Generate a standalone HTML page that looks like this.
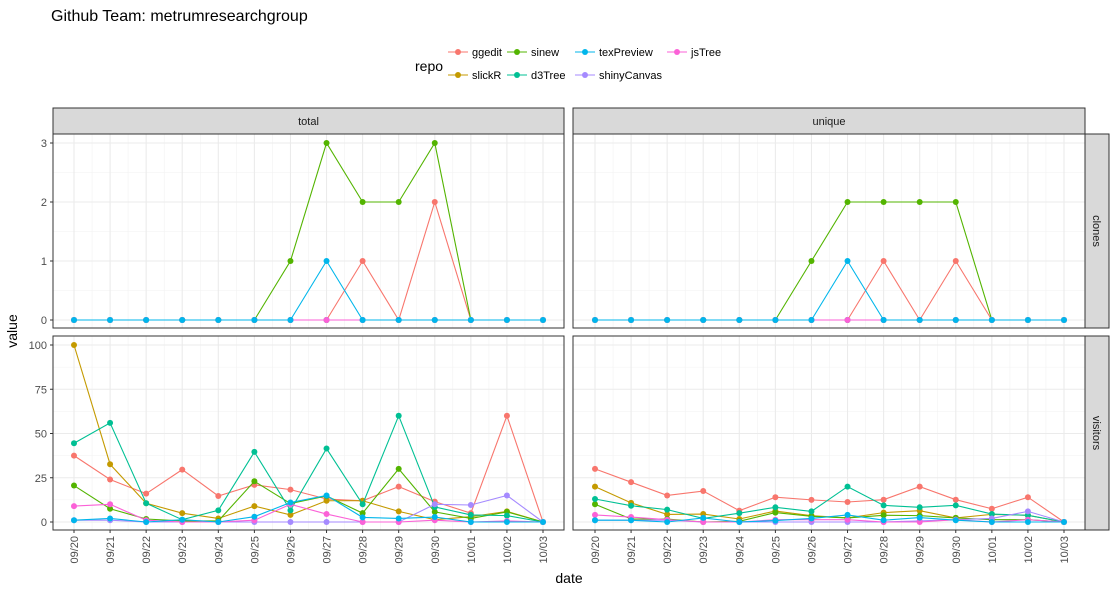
<!DOCTYPE html>
<html><head><meta charset="utf-8"><style>
body{margin:0;background:#fff;font-family:"Liberation Sans",sans-serif}
svg{display:block}
</style></head><body>
<svg id="c" width="1117" height="592" xmlns="http://www.w3.org/2000/svg">
<text x="51" y="21" font-size="16" fill="#000">Github Team: metrumresearchgroup</text>
<text x="415" y="71" font-size="14" fill="#000">repo</text>
<g id="legend"></g>
<text x="569" y="583" font-size="14" text-anchor="middle">date</text>
<text transform="translate(17,331) rotate(-90)" font-size="14" text-anchor="middle">value</text>
<g id="plots"></g>
</svg>
<script>
const dates=["09/20","09/21","09/22","09/23","09/24","09/25","09/26","09/27","09/28","09/29","09/30","10/01","10/02","10/03"];
const repos=["ggedit","slickR","sinew","d3Tree","shinyCanvas","jsTree","texPreview"];
const colors=["#F8766D","#C49A00","#53B400","#00C094","#A58AFF","#FB61D7","#00B6EB"];
const clonesTicks=[0,1,2,3];
const visitorsTicks=[0,25,50,75,100];
const z=[0,0,0,0,0,0,0,0,0,0,0,0,0,0];
const clonesTotal={
ggedit:[0,0,0,0,0,0,0,0,1,0,2,0,0,0],
slickR:z,
sinew:[0,0,0,0,0,0,1,3,2,2,3,0,0,0],
d3Tree:z,
texPreview:[0,0,0,0,0,0,0,1,0,0,0,0,0,0],
shinyCanvas:z,
jsTree:z};
const clonesUnique={
ggedit:[0,0,0,0,0,0,0,0,1,0,1,0,0,0],
slickR:z,
sinew:[0,0,0,0,0,0,1,2,2,2,2,0,0,0],
d3Tree:z,
texPreview:[0,0,0,0,0,0,0,1,0,0,0,0,0,0],
shinyCanvas:z,
jsTree:z};
const visitorsTotal={
ggedit:[37.5,24,16,29.6,14.7,21,18.3,13,12,20,11.5,5,60,0],
slickR:[100,32.6,10.6,5,2,9,4,12,12,6,1.3,3,6,0],
sinew:[20.6,7.5,1.7,0.6,0.6,23,10.4,14.7,5,30,5.7,2,5.7,0],
d3Tree:[44.5,56,10.6,1.3,6.6,39.6,6.6,41.5,10,60,8.5,4,3.6,0],
texPreview:[1,2,0,1.3,0,3,11,15,2.6,2,2.8,0,0,0],
shinyCanvas:[1,1,0,0,0,0,0,0,0,0,10,9.6,15,0],
jsTree:[9,10,1,0,0,1,10,4.5,0,0,1,0,0.6,0]};
const visitorsUnique={
ggedit:[30,22.5,15,17.5,6.4,14,12.5,11.3,12.6,20,12.6,7.5,14,0],
slickR:[20,10.8,4.3,4.5,1.7,6.2,3.6,2.3,5.3,6.4,2.3,4.3,3.8,0],
sinew:[10,1.7,1.7,0,0.4,5.3,3.2,2.3,3.8,3.6,2.3,1.3,1.3,0],
d3Tree:[13,9.2,7,2,5,8.3,6,20,9.4,8.3,9.4,4.5,3.8,0],
texPreview:[1,1,0,2.3,0,0.8,2,4,1,2.5,1,0,0,0],
shinyCanvas:[1,1,1,0,0,0,0,0,0,0.6,1.3,2,6,0],
jsTree:[4,2.8,1.3,0,0,1.3,1.3,1.3,0,0,1.3,0,1.3,0]};

const NS="http://www.w3.org/2000/svg";
const plots=document.getElementById('plots');
function mk(tag,attrs,parent){const e=document.createElementNS(NS,tag);for(const k in attrs)e.setAttribute(k,attrs[k]);(parent||plots).appendChild(e);return e;}
const cols=[{x0:53,x1:564,d0:74,d1:543,label:"total"},{x0:573,x1:1085,d0:595,d1:1064,label:"unique"}];
const rows=[{y0:134,y1:328,label:"clones",ticks:clonesTicks,max:3,v0:320,v1:143,data:[clonesTotal,clonesUnique]},
{y0:336,y1:530,label:"visitors",ticks:visitorsTicks,max:100,v0:522,v1:345,data:[visitorsTotal,visitorsUnique]}];

cols.forEach((c,ci)=>{
  const s=mk('rect',{x:c.x0,y:108,width:c.x1-c.x0,height:26,fill:'#d9d9d9',stroke:'#333','stroke-width':1});
  
  
  const t=mk('text',{x:(c.x0+c.x1)/2,y:125,'font-size':11,'text-anchor':'middle',fill:'#1a1a1a'});t.textContent=c.label;
  
  
});
rows.forEach((r,ri)=>{
  const s=mk('rect',{x:1085,y:r.y0,width:24,height:r.y1-r.y0,fill:'#d9d9d9',stroke:'#333','stroke-width':1});
  
  
  const cy=(r.y0+r.y1)/2;
  const t=mk('text',{transform:`translate(1093,${cy}) rotate(90)`,'font-size':11,'text-anchor':'middle',fill:'#1a1a1a'});t.textContent=r.label;
  
  
  const ys=v=>r.v0+(r.v1-r.v0)*v/r.max;
  cols.forEach((c,ci)=>{
    const xs=i=>c.d0+(c.d1-c.d0)*i/(dates.length-1);
    const g=mk('g',{});
    
    
    for(let i=0;i<r.ticks.length-1;i++){const y=ys((r.ticks[i]+r.ticks[i+1])/2);mk('line',{x1:c.x0,x2:c.x1,y1:y,y2:y,stroke:'#f2f2f2','stroke-width':0.6},g);}
    for(let i=0;i<dates.length-1;i++){const x=xs(i+0.5);mk('line',{x1:x,x2:x,y1:r.y0,y2:r.y1,stroke:'#f2f2f2','stroke-width':0.6},g);}
    r.ticks.forEach(v=>{const y=ys(v);mk('line',{x1:c.x0,x2:c.x1,y1:y,y2:y,stroke:'#ebebeb','stroke-width':1.1},g);});
    dates.forEach((d,i)=>{const x=xs(i);mk('line',{x1:x,x2:x,y1:r.y0,y2:r.y1,stroke:'#ebebeb','stroke-width':1.1},g);});
    const data=r.data[ci];
    repos.forEach((rp,k)=>{
      const vals=data[rp];
      const pl=mk('polyline',{points:vals.map((v,i)=>xs(i)+','+ys(v)).join(' '),fill:'none',stroke:colors[k],'stroke-width':1.1},g);
      
      
      vals.forEach((v,i)=>{
        const p=mk('circle',{cx:xs(i),cy:ys(v),r:3,fill:colors[k]},g);
        
        
      });
    });
    mk('rect',{x:c.x0,y:r.y0,width:c.x1-c.x0,height:r.y1-r.y0,fill:'none',stroke:'#333','stroke-width':1},g);
    if(ci==0){
      r.ticks.forEach(v=>{const y=ys(v);mk('line',{x1:c.x0-3,x2:c.x0,y1:y,y2:y,stroke:'#333'},g);
        const t=mk('text',{x:c.x0-6,y:y+4,'font-size':11,'text-anchor':'end',fill:'#4d4d4d'},g);t.textContent=v;
        
        });
    }
    if(ri==1){
      dates.forEach((d,i)=>{const x=xs(i);mk('line',{x1:x,x2:x,y1:r.y1,y2:r.y1+3,stroke:'#333'},g);
        const t=mk('text',{transform:`translate(${x+4},${r.y1+6}) rotate(-90)`,'font-size':11,'text-anchor':'end',fill:'#4d4d4d'},g);t.textContent=d;
        
        });
    }
  });
});
const leg=document.getElementById('legend');
const legPos={ggedit:[448,52],sinew:[507,52],texPreview:[575,52],jsTree:[667,52],slickR:[448,75],d3Tree:[507,75],shinyCanvas:[575,75]};
repos.forEach((rp,k)=>{
  const [x,y]=legPos[rp];
  const g=mk('g',{},leg);
  
  
  mk('line',{x1:x,x2:x+20,y1:y,y2:y,stroke:colors[k],'stroke-width':1.1},g);
  mk('circle',{cx:x+10,cy:y,r:3,fill:colors[k]},g);
  const t=mk('text',{x:x+24,y:y+4,'font-size':11,fill:'#000'},g);t.textContent=rp;
});
</script>
</body></html>
